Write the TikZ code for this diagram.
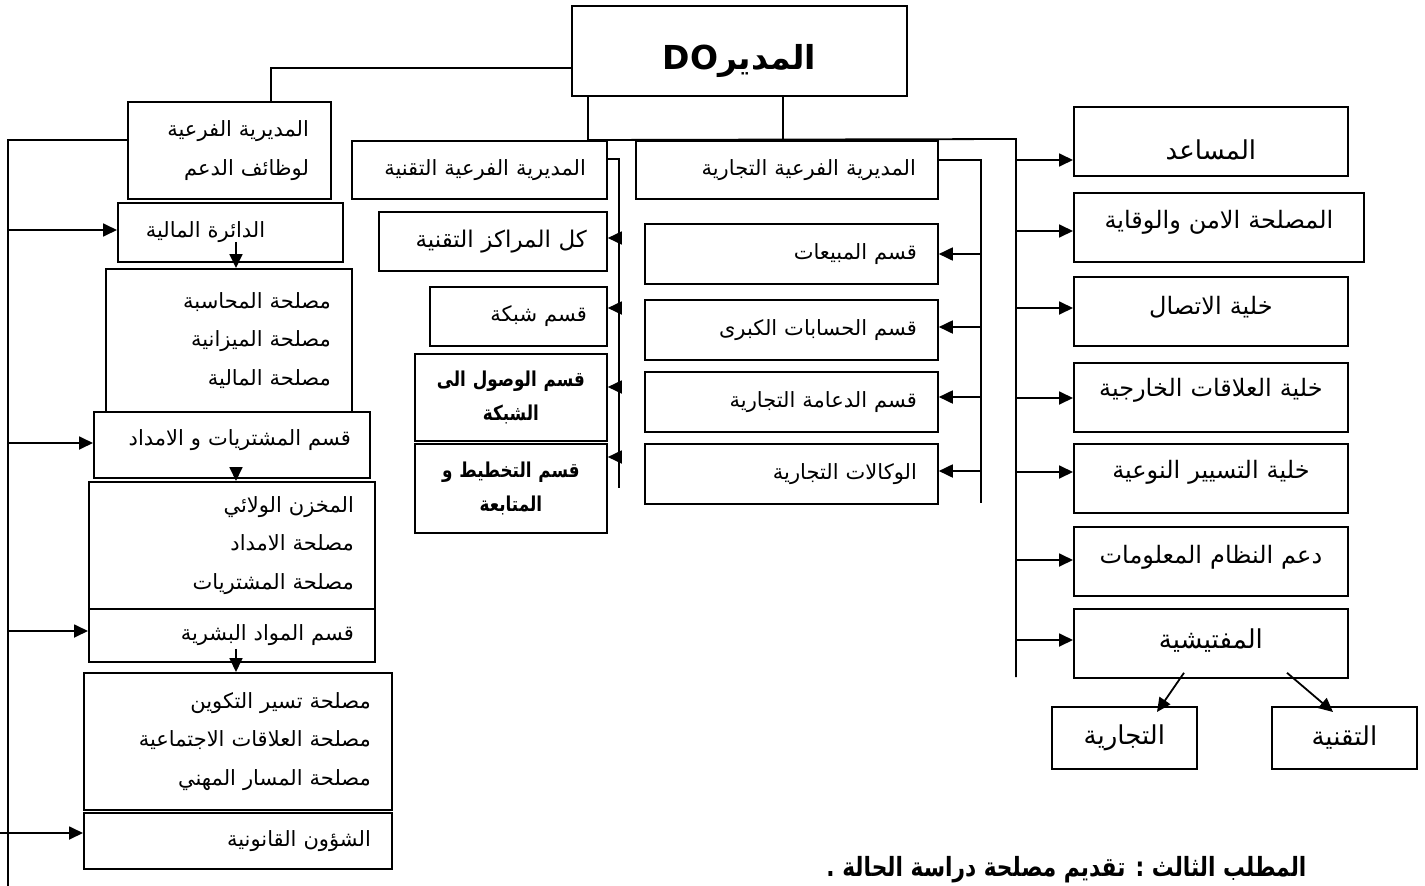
\documentclass[tikz,border=0pt]{standalone}
\usepackage{fontspec}
\newfontfamily\arabicfont[Script=Arabic]{DejaVu Sans}
\newfontfamily\arabicbold[Script=Arabic, FakeStretch=0.82]{DejaVu Sans Bold}
\TeXXeTstate=1
\usetikzlibrary{arrows.meta,calc}
\newcommand\ar[1]{\leavevmode\beginR #1\endR}
\newcommand\lowr[2]{\raisebox{-#1}[\height][\depth]{#2}}
% box: name, x1, y1, x2, y2, options, side margin, text
\newcommand\bx[8]{%
  \pgfmathsetmacro\bw{#4-#2}%
  \pgfmathsetmacro\bh{#5-#3}%
  \pgfmathsetmacro\tw{#4-#2-2*#7}%
  \node[bx, anchor=north west, minimum width=\bw pt, minimum height=\bh pt,
        text width=\tw pt, inner xsep=#7pt, #6] (#1) at (#2,#3) {#8};}
\begin{document}
\begin{tikzpicture}[x=1pt, y=-1pt,
  bx/.style={draw, line width=1.8pt, inner ysep=0pt, align=right,
             font=\arabicfont\fontsize{21}{38.5}\selectfont},
  big/.style={align=center, font=\arabicfont\fontsize{24}{30}\selectfont},
  bigger/.style={align=center, font=\arabicfont\fontsize{26}{30}\selectfont},
  boldbx/.style={align=center, font=\arabicbold\fontsize{20.5}{34}\selectfont},
  ln/.style={line width=1.8pt},
  thinln/.style={line width=1.1pt},
  arr/.style={line width=1.8pt, -{Triangle[length=14pt,width=13pt]}}]
\useasboundingbox (0,0) rectangle (1425,886);

% director
\bx{do}{571}{5}{906}{95}{align=center, font=\arabicfont\bfseries\fontsize{33}{36}\selectfont}{4}{\lowr{10pt}{\ar{المدير\beginL DO\endL}}}

% right column
\bx{r1}{1073}{106}{1347}{175}{bigger}{4}{\lowr{9pt}{\ar{المساعد}}}
\bx{r2}{1073}{192}{1363}{261}{big}{4}{\lowr{-5pt}{\ar{المصلحة الامن والوقاية}}}
\bx{r3}{1073}{276}{1347}{345}{big}{4}{\lowr{-4pt}{\ar{خلية الاتصال}}}
\bx{r4}{1073}{362}{1347}{431}{big}{4}{\lowr{-7pt}{\ar{خلية العلاقات الخارجية}}}
\bx{r5}{1073}{443}{1347}{512}{big}{4}{\lowr{-6pt}{\ar{خلية التسيير النوعية}}}
\bx{r6}{1073}{526}{1347}{595}{big}{4}{\lowr{-4pt}{\ar{دعم النظام المعلومات}}}
\bx{r7}{1073}{608}{1347}{677}{bigger}{4}{\lowr{-3pt}{\ar{المفتيشية}}}
\bx{tij}{1051}{706}{1196}{768}{bigger}{4}{\ar{التجارية}}
\bx{taq}{1271}{706}{1416}{768}{bigger}{4}{\ar{التقنية}}

% technical
\bx{tech}{351}{140}{606}{198}{}{21}{\ar{المديرية الفرعية التقنية}}
\bx{t1}{378}{211}{606}{270}{font=\arabicfont\fontsize{23}{30}\selectfont}{20}{\ar{كل المراكز التقنية}}
\bx{t2}{429}{286}{606}{345}{}{20}{\ar{قسم شبكة}}
\bx{t3}{414}{353}{606}{440}{boldbx}{4}{\ar{قسم الوصول الى}\\\ar{الشبكة}}
\bx{t4}{414}{443}{606}{532}{boldbx}{4}{\ar{قسم التخطيط و}\\\ar{المتابعة}}

% commercial
\bx{com}{635}{140}{937}{198}{}{22}{\ar{المديرية الفرعية التجارية}}
\bx{c1}{644}{223}{937}{283}{}{21}{\ar{قسم المبيعات}}
\bx{c2}{644}{299}{937}{359}{}{21}{\ar{قسم الحسابات الكبرى}}
\bx{c3}{644}{371}{937}{431}{}{21}{\ar{قسم الدعامة التجارية}}
\bx{c4}{644}{443}{937}{503}{}{21}{\ar{الوكالات التجارية}}

% support
\bx{sup}{127}{101}{330}{198}{}{22}{\ar{المديرية الفرعية}\\\ar{لوظائف الدعم}}
\bx{fin}{117}{202}{342}{261}{align=left}{28}{\ar{الدائرة المالية}}
\bx{acc}{105}{268}{351}{411}{}{21}{\ar{مصلحة المحاسبة}\\\ar{مصلحة الميزانية}\\\ar{مصلحة المالية}}
\bx{pur}{93}{411}{369}{477}{}{19}{\lowr{-5pt}{\ar{قسم المشتريات و الامداد}}}
\bx{war}{88}{481}{374}{608}{}{21}{\ar{المخزن الولائي}\\\ar{مصلحة الامداد}\\\ar{مصلحة المشتريات}}
\bx{hr}{88}{608}{374}{661}{}{21}{\ar{قسم المواد البشرية}}
\bx{hrs}{83}{672}{391}{809}{}{21}{\ar{مصلحة تسير التكوين}\\\ar{مصلحة العلاقات الاجتماعية}\\\ar{مصلحة المسار المهني}}
\bx{law}{83}{812}{391}{868}{}{21}{\ar{الشؤون القانونية}}

% title
\node[font=\arabicbold\fontsize{26.5}{30}\selectfont, anchor=base east] (title) at (1310,876) {\ar{المطلب الثالث : تقديم مصلحة دراسة الحالة .}};

% bus coordinates
\coordinate (rbt) at (1016,139);
\coordinate (rbb) at (1016,677);
\coordinate (tbb) at (619,488);
\coordinate (cbb) at (981,503);
\coordinate (lbb) at (8,886);
\coordinate (lawin) at (0,833);

% director links
\draw[thinln] (do.west |- 0,68) -| (sup.north -| 271,0);
\draw[thinln] (do.south -| 588,0) -- (tech.north -| 588,0);
\draw[thinln] (do.south -| 783,0) -- (com.north -| 783,0);
\draw[ln] (tech.north -| 588,0) -- (rbt) -- (rbb);

% right column arrows
\foreach \n/\y in {r1/160, r2/231, r3/308, r4/398, r5/472, r6/560, r7/640}
  \draw[arr] (rbt |- 0,\y) -- (\n.west |- 0,\y);

% inspection
\draw[arr] ($(r7.south -| 1184,0)+(0,-6)$) -- ($(tij.north -| 1157,0)+(0,6)$);
\draw[arr] ($(r7.south -| 1287,0)+(0,-6)$) -- ($(taq.north -| 1333,0)+(0,6)$);

% technical bus
\draw[ln] (tech.east |- 0,159) -| (tbb);
\foreach \n/\y in {t1/238, t2/308, t3/387, t4/457}
  \draw[arr] (tbb |- 0,\y) -- (\n.east |- 0,\y);

% commercial bus
\draw[ln] (com.east |- 0,160) -| (cbb);
\foreach \n/\y in {c1/254, c2/327, c3/397, c4/471}
  \draw[arr] (cbb |- 0,\y) -- (\n.east |- 0,\y);

% support bus
\draw[ln] (sup.west |- 0,140) -| (lbb);
\foreach \n/\y in {fin/230, pur/443, hr/631}
  \draw[arr] (lbb |- 0,\y) -- (\n.west |- 0,\y);
\draw[arr] (lawin) -- (law.west |- lawin);

% vertical arrows inside support column
\draw[arr] ($(fin.south -| 236,0)+(0,-21)$) -- (acc.north -| 236,0);
\draw[arr] ($(pur.south -| 236,0)+(0,-7)$) -- (war.north -| 236,0);
\draw[arr] ($(hr.south -| 236,0)+(0,-14)$) -- (hrs.north -| 236,0);
\end{tikzpicture}
\end{document}
